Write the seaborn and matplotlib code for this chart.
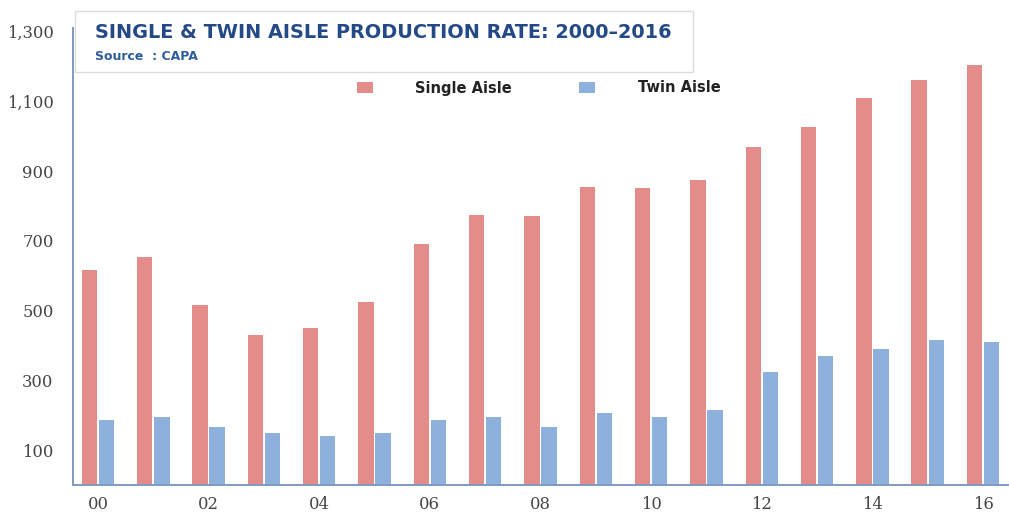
import matplotlib
matplotlib.use("Agg")
import matplotlib.pyplot as plt
from matplotlib.patches import Patch, Rectangle
import pandas as pd
import seaborn as sns

# Annual aircraft production, 2000-2016
years = ["00", "01", "02", "03", "04", "05", "06", "07", "08",
         "09", "10", "11", "12", "13", "14", "15", "16"]
single_aisle = [615, 655, 515, 430, 450, 525, 690, 775, 770,
                855, 850, 875, 970, 1025, 1110, 1160, 1205]
twin_aisle = [185, 195, 165, 150, 140, 150, 185, 195, 165,
              205, 195, 215, 325, 370, 390, 415, 410]
series_names = ["Single Aisle", "Twin Aisle"]
y_ticks = [100, 300, 500, 700, 900, 1100, 1300]
title_text = "SINGLE & TWIN AISLE PRODUCTION RATE: 2000\u20132016"
source_text = "Source  : CAPA"

RED = "#E48C8A"
BLUE = "#8DB0DD"
AXIS_COLOR = "#7F9AC0"

df = pd.DataFrame({
    "year": years * 2,
    "rate": single_aisle + twin_aisle,
    "series": [series_names[0]] * len(years) + [series_names[1]] * len(years),
})

sns.set_theme(style="white")
plt.rcParams["font.family"] = ["DejaVu Sans"]

fig = plt.figure(figsize=(10.09, 5.15), dpi=100)
W, H = 1009, 515
ax = fig.add_axes([73 / W, (H - 485) / H, (1008 - 73) / W, (485 - 28) / H])

sns.barplot(data=df, x="year", y="rate", hue="series", order=years,
            hue_order=series_names, palette=[RED, BLUE], width=0.62,
            gap=0.1, saturation=1, legend=False, linewidth=0, ax=ax)

ax.set_xlim(-0.45, len(years) - 0.55)
ax.set_ylim(0, 1310)
ax.set_xlabel("")
ax.set_ylabel("")

ax.set_xticks(range(0, len(years), 2))
ax.set_xticklabels(years[::2])
ax.set_yticks(y_ticks)
ax.set_yticklabels([f"{v:,}" for v in y_ticks])
ax.tick_params(axis="both", length=0, colors="#454545", labelsize=11.8)
ax.tick_params(axis="y", pad=14)
ax.tick_params(axis="x", pad=8)
for lab in ax.get_xticklabels() + ax.get_yticklabels():
    lab.set_family("DejaVu Serif")

for side in ("top", "right"):
    ax.spines[side].set_visible(False)
for side in ("left", "bottom"):
    ax.spines[side].set_color(AXIS_COLOR)
    ax.spines[side].set_linewidth(1.4)

# Title panel
box = Rectangle((75 / W, 1 - 72 / H), (693 - 75) / W, (72 - 11) / H,
                transform=fig.transFigure, facecolor="white",
                edgecolor="#dcdcdc", linewidth=1.0, zorder=5)
fig.patches.append(box)
fig.text(95 / W, 1 - 32 / H, title_text, transform=fig.transFigure,
         fontsize=13.9, fontweight="bold", color="#234A86", va="center",
         ha="left", zorder=6)
fig.text(95 / W, 1 - 56 / H, source_text, transform=fig.transFigure,
         fontsize=9, fontweight="bold", color="#2F5D9C", va="center",
         ha="left", zorder=6)

# Legend
handles = [Patch(facecolor=RED, edgecolor="none"),
           Patch(facecolor=BLUE, edgecolor="none")]
fig.legend(handles, series_names, loc="center left",
           bbox_to_anchor=(357 / W, 1 - 88 / H), ncol=2, frameon=False,
           borderpad=0, borderaxespad=0, handlelength=1.1,
           handleheight=0.8, handletextpad=2.9, columnspacing=4.6,
           prop={"family": "DejaVu Sans", "weight": "bold", "size": 10.5},
           labelcolor="#222222")

fig.savefig("out.png", dpi=100, facecolor="white")
